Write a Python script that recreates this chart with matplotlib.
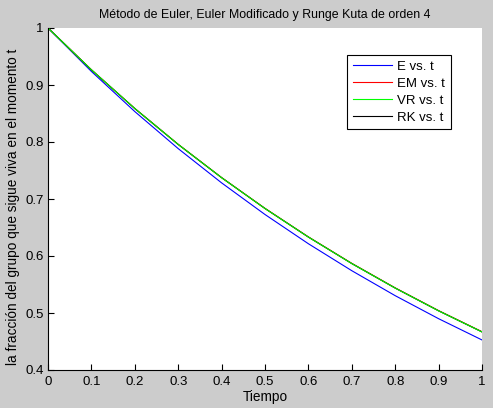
import matplotlib
matplotlib.use("Agg")
import matplotlib.pyplot as plt
import numpy as np

# values (step 0.1)
t = [0.0, 0.1, 0.2, 0.3, 0.4, 0.5, 0.6, 0.7, 0.8, 0.9, 1.0]
e_vals = [1.0, 0.9238, 0.8534, 0.7884, 0.7283, 0.6728, 0.6215, 0.5742, 0.5304, 0.4900, 0.4527]
em_vals = [1.0, 0.9267, 0.8588, 0.7959, 0.7376, 0.6836, 0.6335, 0.5871, 0.5441, 0.5042, 0.4672]
vr_vals = [1.0, 0.9266, 0.8587, 0.7957, 0.7374, 0.6833, 0.6332, 0.5867, 0.5437, 0.5038, 0.4668]
rk_vals = [1.0, 0.9266, 0.8587, 0.7957, 0.7374, 0.6833, 0.6332, 0.5867, 0.5437, 0.5038, 0.4668]

xticks = [0, 0.1, 0.2, 0.3, 0.4, 0.5, 0.6, 0.7, 0.8, 0.9, 1]
xticklabels = ["0", "0.1", "0.2", "0.3", "0.4", "0.5", "0.6", "0.7", "0.8", "0.9", "1"]
yticks = [0.4, 0.5, 0.6, 0.7, 0.8, 0.9, 1.0]
yticklabels = ["0.4", "0.5", "0.6", "0.7", "0.8", "0.9", "1"]

plt.rcParams['font.family'] = ['Liberation Sans', 'DejaVu Sans']
plt.rcParams['font.size'] = 9

fig = plt.figure(figsize=(4.93, 4.08), dpi=100, facecolor="#cccccc")
ax = fig.add_axes([48/493, 1-370/408, 434/493, 342/408])

lE, = ax.plot(t, e_vals, color="#0000ff", lw=0.8)
lEM, = ax.plot(t, em_vals, color="#ff0000", lw=0.8)
lRK, = ax.plot(t, rk_vals, color="#000000", lw=0.8)
lVR, = ax.plot(t, vr_vals, color="#00ff00", lw=0.8)

ax.set_xlim(0, 1)
ax.set_ylim(0.4, 1)
ax.set_xticks(xticks)
ax.set_xticklabels(xticklabels)
ax.set_yticks(yticks)
ax.set_yticklabels(yticklabels)
ax.tick_params(direction="in", length=4, width=0.8, labelsize=9.5)
ax.tick_params(axis="x", pad=4.5)
ax.tick_params(axis="y", pad=3)
for s in ["top", "right"]:
    ax.spines[s].set_visible(False)
for s in ["left", "bottom"]:
    ax.spines[s].set_linewidth(0.8)

ax.set_title("Método de Euler, Euler Modificado y Runge Kuta de orden 4", fontsize=8.9, pad=7)
ax.set_xlabel("Tiempo", fontsize=9.8, labelpad=1.5)
ax.set_ylabel("la fracción del grupo que sigue viva en el momento t", fontsize=9.8)
ax.yaxis.set_label_coords(-0.064, 0.477)

leg = ax.legend([lE, lEM, lVR, lRK], ["E vs. t", "EM vs. t", "VR vs. t", "RK vs. t"],
                loc="upper left", bbox_to_anchor=(347/493, 1-55/408),
                bbox_transform=fig.transFigure, borderaxespad=0,
                fancybox=False, framealpha=1, edgecolor="black",
                handlelength=3.0, handletextpad=0.4, labelspacing=0.36,
                borderpad=0.42, fontsize=9.5)
leg.get_frame().set_linewidth(0.8)

fig.savefig("out.png", dpi=100, facecolor=fig.get_facecolor())
